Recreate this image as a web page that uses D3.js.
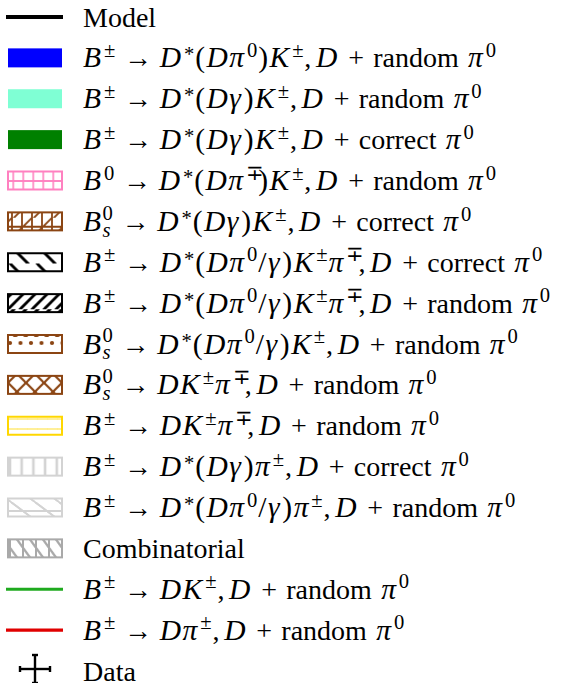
<!DOCTYPE html>
<html>
<head>
<script src="https://cdn.jsdelivr.net/npm/d3@7"></script>
</head>
<body style="margin:0">
<script>
// legend entries, top to bottom
var labels = [
  "Model",
  "$B^{±} → D^{*}(Dπ^{0})K^{±}, D$ + random $π^{0}$",
  "$B^{±} → D^{*}(Dγ)K^{±}, D$ + random $π^{0}$",
  "$B^{±} → D^{*}(Dγ)K^{±}, D$ + correct $π^{0}$",
  "$B^{0} → D^{*}(Dπ^{∓})K^{±}, D$ + random $π^{0}$",
  "$B_{s}^{0} → D^{*}(Dγ)K^{±}, D$ + correct $π^{0}$",
  "$B^{±} → D^{*}(Dπ^{0}/γ)K^{±}π^{∓}, D$ + correct $π^{0}$",
  "$B^{±} → D^{*}(Dπ^{0}/γ)K^{±}π^{∓}, D$ + random $π^{0}$",
  "$B_{s}^{0} → D^{*}(Dπ^{0}/γ)K^{±}, D$ + random $π^{0}$",
  "$B_{s}^{0} → DK^{±}π^{∓}, D$ + random $π^{0}$",
  "$B^{±} → DK^{±}π^{∓}, D$ + random $π^{0}$",
  "$B^{±} → D^{*}(Dγ)π^{±}, D$ + correct $π^{0}$",
  "$B^{±} → D^{*}(Dπ^{0}/γ)π^{±}, D$ + random $π^{0}$",
  "Combinatorial",
  "$B^{±} → DK^{±}, D$ + random $π^{0}$",
  "$B^{±} → Dπ^{±}, D$ + random $π^{0}$",
  "Data"
];
var kinds = ["line","fill","fill","fill","hatch","hatch","hatch","hatch","hatch","hatch","hatch","hatch","hatch","hatch","line","line","data"];
var colors = ["#000000","#0000ff","#7fffd4","#008000","#ff80c0","#8b4513","#000000","#000000",
              "#8b4513","#8b4513","#ffd700","#d3d3d3","#d3d3d3","#a9a9a9","#1faa1f","#e00000","#000000"];
var hatches = [null,null,null,null,"+","+/","\\","/","o","x","-","|","\\-","|\\",null,null,null];

var width = 575, height = 683;
var romanSize = 28, mathSize = 29.5, textX = 83;
var sw = {x: 8, w: 54, h: 18};

// Times-compatible advance widths (em), so nothing is measured while loading
var romanW = {"M":.889,"o":.5,"d":.5,"e":.444,"l":.278,"C":.667,"m":.778,"b":.5,"i":.278,"n":.5,
  "a":.444,"t":.278,"r":.333,"c":.444,"D":.722,"+":.564,"(":.333,")":.333,",":.25,"/":.278,
  "0":.5,"*":.5,"±":.549,"∓":.549,"→":1.0};
var italicW = {"B":.611,"D":.722,"K":.667,"s":.389,"π":.5,"γ":.44};

var svg = d3.select("body").append("svg")
    .attr("width", width).attr("height", height)
    .attr("font-family", "Liberation Serif");

var y = d3.scalePoint().domain(d3.range(labels.length)).range([17, 671]);

var defs = svg.append("defs");

// hatch tiles, drawn in tile coordinates
var tiles = {
  "+":  {w: 10, h: 18, sw: 1.6, ox: 5.3, lines: [[0,0,0,18],[-10,9,10,9]]},
  "+/": {w: 20, h: 18, sw: 1.8, ox: 4, lines: [[0,0,0,18],[10,0,10,18],[-20,9,20,9],[2,18,20,0]]},
  "\\": {w: 27, h: 18, sw: 2.6, ox: 2, lines: [[0,0,18,18],[-27,0,-9,18]]},
  "/":  {w: 12, h: 18, sw: 2.6, ox: 0, lines: [[0,18,18,0],[-12,18,6,0],[-24,18,-6,0]]},
  "x":  {w: 18, h: 18, sw: 2.2, ox: 0, lines: [[0,0,18,18],[0,18,18,0]]},
  "-":  {w: 10, h: 10, sw: 1.6, ox: 0, oy: 6, lines: [[0,0,10,0]]},
  "|":  {w: 11.7, h: 18, sw: 2.6, ox: 2, lines: [[0,0,0,18]]},
  "\\-":{w: 24, h: 18, sw: 1.8, ox: 3, lines: [[-24,9,24,9],[0,0,24,18],[-24,0,0,18]]},
  "|\\":{w: 13, h: 18, sw: 2, ox: 2, lines: [[0,0,0,18],[0,0,13,18],[-13,0,0,18]]},
  "o":  {w: 10.5, h: 18, sw: 0, ox: 2, dots: [[0,6],[5.25,17]]}
};

var entries = labels.map(function(l, i){ return {i: i, label: l, kind: kinds[i], color: colors[i], hatch: hatches[i]}; });

var rows = svg.selectAll("g.row")
    .data(entries)
    .enter().append("g")
    .attr("class", "row")
    .attr("transform", function(d){ return "translate(0," + y(d.i) + ")"; });

// plain lines
rows.filter(function(d){ return d.kind == "line"; })
    .append("line")
    .attr("x1", 6).attr("x2", 63)
    .attr("stroke", function(d){ return d.color; })
    .attr("stroke-width", function(d){ return d.i == 0 ? 4 : 3.2; });

// solid boxes
rows.filter(function(d){ return d.kind == "fill"; })
    .append("rect")
    .attr("x", sw.x).attr("y", -sw.h / 2 - 0.5)
    .attr("width", sw.w).attr("height", sw.h + 1)
    .attr("fill", function(d){ return d.color; });

// hatched boxes
var hatched = rows.filter(function(d){ return d.kind == "hatch"; });
hatched.each(function(d){
  var t = tiles[d.hatch];
  var top = y(d.i) - sw.h / 2;
  var p = defs.append("pattern")
      .attr("id", "hatch" + d.i)
      .attr("patternUnits", "userSpaceOnUse")
      .attr("x", sw.x + t.ox).attr("y", top + (t.oy || 0))
      .attr("width", t.w).attr("height", t.h);
  (t.lines || []).forEach(function(l){
    [0, t.w].forEach(function(sh){
      p.append("line")
        .attr("x1", l[0] + sh).attr("y1", l[1])
        .attr("x2", l[2] + sh).attr("y2", l[3])
        .attr("stroke", d.color).attr("stroke-width", t.sw)
        .attr("stroke-linecap", "square");
    });
  });
  (t.dots || []).forEach(function(c){
    [0, t.w].forEach(function(sh){
      p.append("circle").attr("cx", c[0] + sh).attr("cy", c[1]).attr("r", 2.1).attr("fill", d.color);
    });
  });
});
hatched.append("rect")
    .attr("x", sw.x).attr("y", -sw.h / 2)
    .attr("width", sw.w).attr("height", sw.h)
    .attr("fill", "#fff");
hatched.append("rect")
    .attr("x", sw.x).attr("y", -sw.h / 2)
    .attr("width", sw.w).attr("height", sw.h)
    .attr("fill", function(d){ return "url(#hatch" + d.i + ")"; })
    .attr("stroke", function(d){ return d.color; })
    .attr("stroke-width", 2);

// data marker: error bar cross with caps
var dataRow = rows.filter(function(d){ return d.kind == "data"; })
    .append("g").attr("transform", "translate(35,-2)")
    .attr("stroke", "#000").attr("stroke-width", 2.4).attr("fill", "none");
dataRow.append("line").attr("x1", -15).attr("x2", 15);
dataRow.append("line").attr("y1", -14).attr("y2", 14);
dataRow.append("line").attr("x1", -15).attr("x2", -15).attr("y1", -3).attr("y2", 3);
dataRow.append("line").attr("x1", 15).attr("x2", 15).attr("y1", -3).attr("y2", 3);
dataRow.append("line").attr("y1", -14).attr("y2", -14).attr("x1", -3).attr("x2", 3);
dataRow.append("line").attr("y1", 14).attr("y2", 14).attr("x1", -3).attr("x2", 3);

// ---- little math-text layout ----
function measure(s, italic, size){
  var tb = italic ? italicW : romanW;
  return d3.sum(s.split(""), function(c){ return tb[c] || 0.5; }) * size;
}
function isLetter(c){ return /[A-Za-zα-ω]/.test(c); }

function layout(label){
  var runs = [], x = 0, em = romanSize, ms = mathSize, ss = mathSize * 0.7;
  function put(t, it, size, dy, gap){
    runs.push({t: t, x: x, it: it, size: size, dy: dy});
    x += measure(t, it, size) + (gap || 0);
  }
  var parts = label.split("$");
  parts.forEach(function(part, pi){
    if (pi % 2 == 0){
      // roman text, LaTeX-ish interword space
      part.split(" ").forEach(function(w, wi){
        if (wi > 0) x += 0.333 * em;
        if (w.length) put(w, false, em, 0);
      });
      return;
    }
    var i = 0, lastItalic = false, baseEnd = x, scriptStart = null, lastScript = null;
    while (i < part.length){
      var c = part[i];
      if (c == " "){ i++; continue; }
      if (c == "^" || c == "_"){
        var j = part.indexOf("}", i);
        var grp = part.slice(i + 2, j);
        var sup = c == "^";
        var both = lastScript != null;
        var prevX = x;
        x = both ? scriptStart : baseEnd + (sup && lastItalic ? 0.05 * ms : 0);
        if (!both) scriptStart = x;
        var dy;
        if (sup) dy = grp == "*" ? -0.2 * ms : (both ? -0.38 * ms : -0.35 * ms);
        else dy = 0.2 * ms;
        for (var k = 0; k < grp.length; k++) put(grp[k], isLetter(grp[k]), ss, dy, 0.03 * ms);
        if (both) x = Math.max(x, prevX);
        lastScript = sup ? "sup" : "sub";
        i = j + 1;
        continue;
      }
      lastScript = null;
      if (c == "→"){
        x += 0.278 * em;
        put(c, false, em, 0, 0.278 * em);
        lastItalic = false;
      } else if (c == ","){
        put(c, false, em, 0, 0.167 * em);
        lastItalic = false;
      } else {
        var itc = isLetter(c);
        put(c, itc, ms, 0, 0.05 * ms);
        lastItalic = itc;
      }
      baseEnd = x;
      i++;
    }
  });
  return runs;
}

// label glyphs straight on the svg, plain x/y like any text
var glyphs = [];
entries.forEach(function(d){
  layout(d.label).forEach(function(r){
    r.row = d.i;
    glyphs.push(r);
  });
});

svg.selectAll("text.lab")
    .data(glyphs)
    .enter().append("text")
    .attr("class", "lab")
    .attr("x", function(r){ return textX + r.x; })
    .attr("y", function(r){ return y(r.row) + 9.5 + r.dy; })
    .attr("font-family", "Liberation Serif")
    .attr("font-style", function(r){ return r.it ? "italic" : "normal"; })
    .attr("font-size", function(r){ return r.size; })
    .attr("fill", "#000")
    .text(function(r){ return r.t; });
</script>
</body>
</html>
